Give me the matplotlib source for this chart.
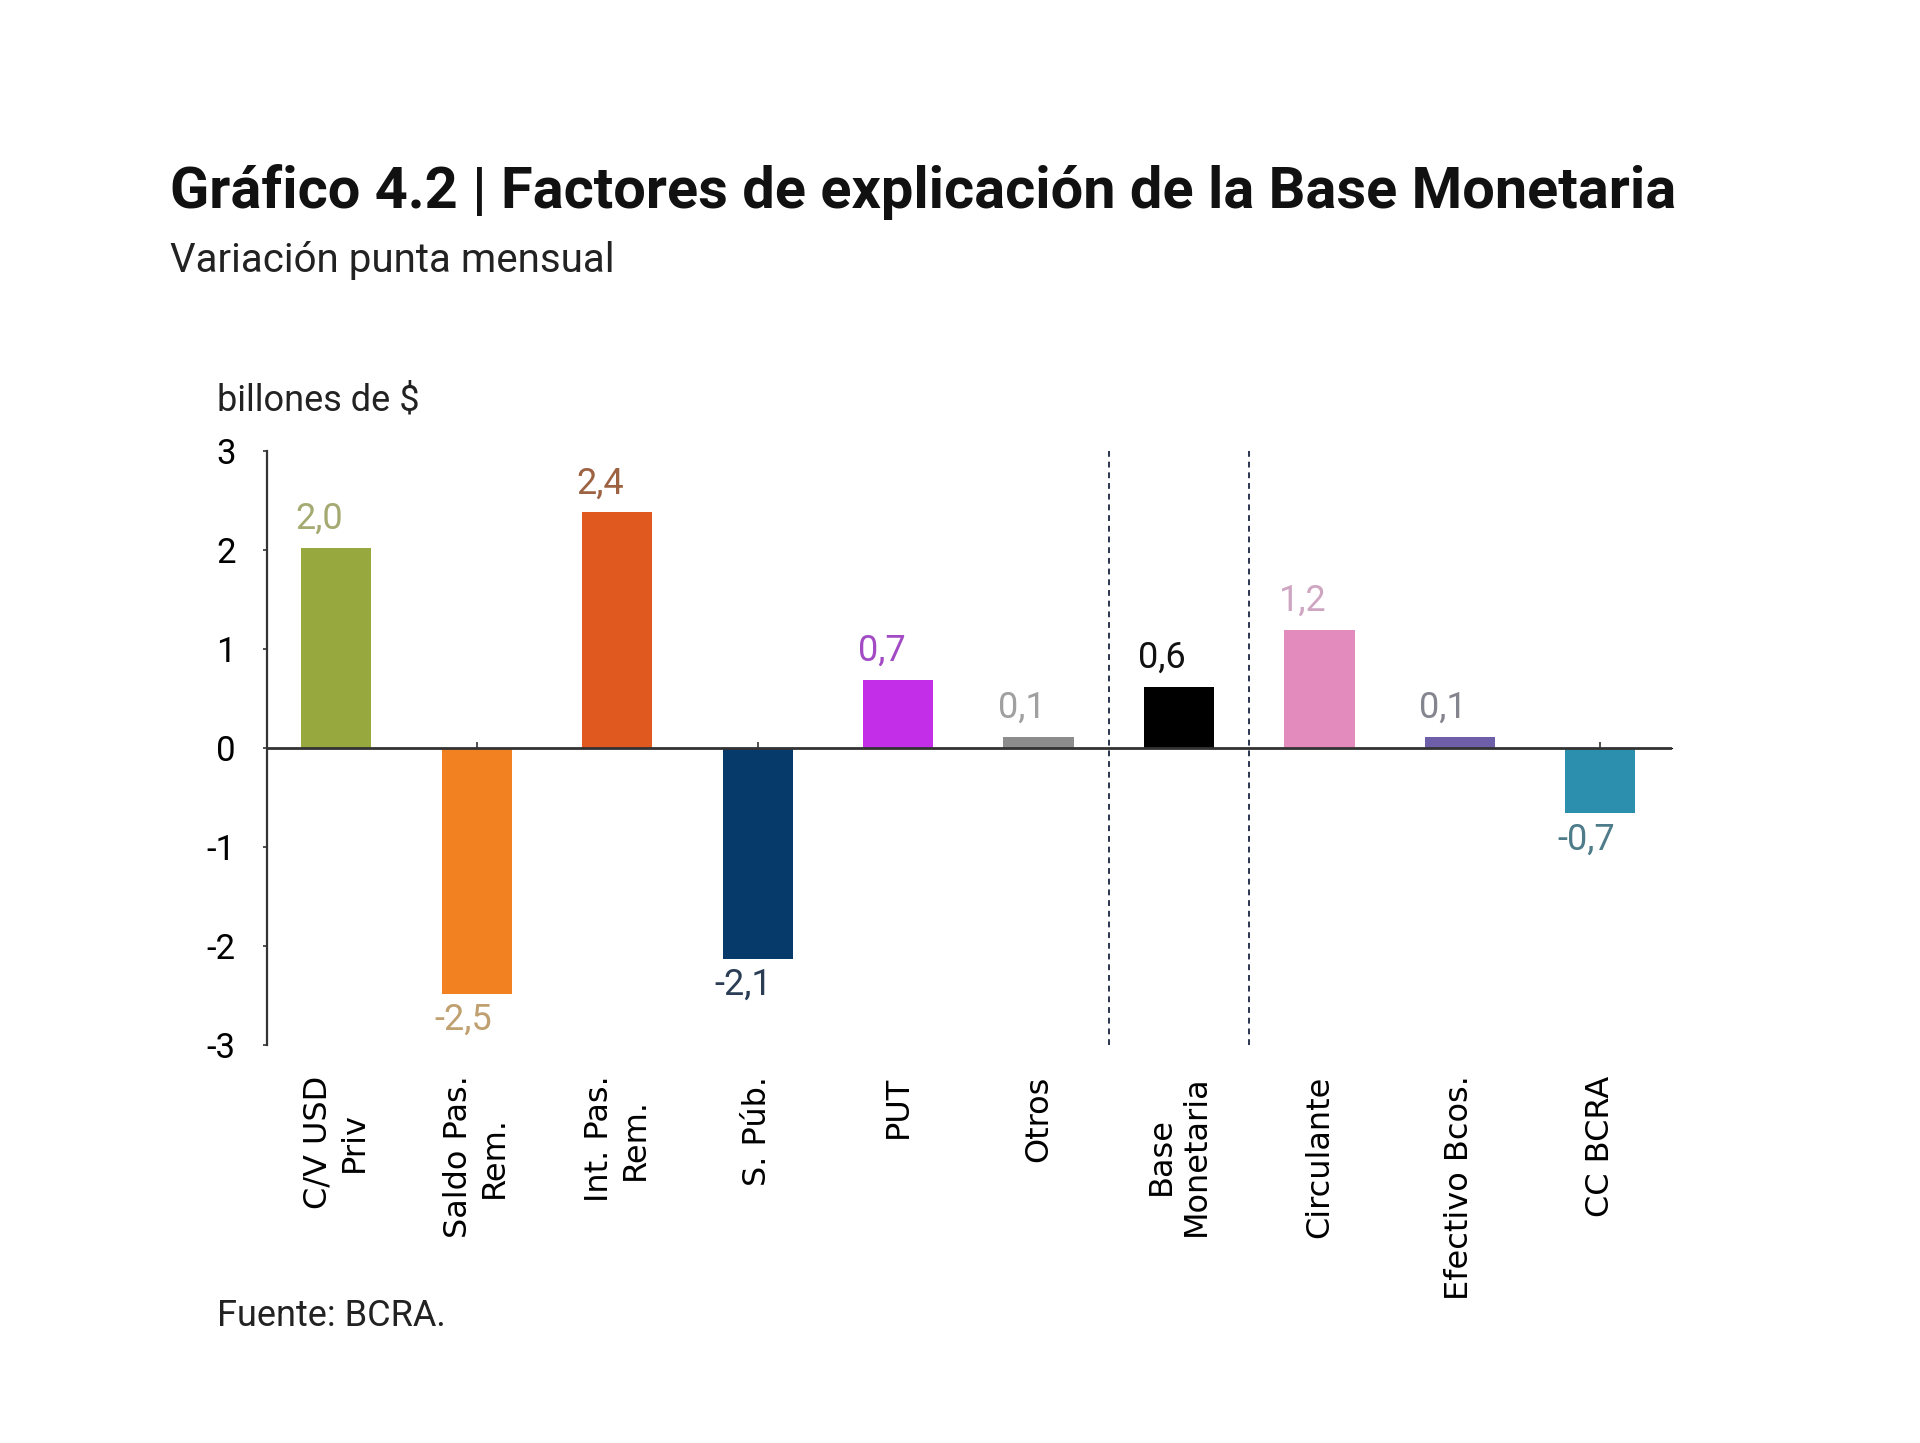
import matplotlib.pyplot as plt
import numpy as np

# datos (billones de $)
categorias = ['C/V USD\nPriv', 'Saldo Pas.\nRem.', 'Int. Pas.\nRem.', 'S. Púb.', 'PUT',
              'Otros', 'Base\nMonetaria', 'Circulante', 'Efectivo Bcos.', 'CC BCRA']
valores = [2.02, -2.48, 2.38, -2.13, 0.69, 0.11, 0.62, 1.19, 0.11, -0.66]
colores = ['#97a83f', '#f28122', '#e05a20', '#053a6b', '#c32fe8',
           '#8c8c8c', '#000000', '#e48bbd', '#6f5ea8', '#2d8fae']
colores_etiq = ['#a5aa72', '#c0a070', '#9c6242', '#2a3d55', '#a24bc4',
                '#a0a0a0', '#111111', '#cfa6c2', '#858590', '#4f7c8a']
separadores = [5.5, 6.5]

fig = plt.figure(figsize=(19.2, 14.43), dpi=100)
ax = fig.add_axes([0.1393, 0.2758, 0.7315, 0.4116])

x = np.arange(len(categorias))
barras = ax.bar(x, valores, width=0.5, color=colores, zorder=2)

for xi, v, c in zip(x, valores, colores_etiq):
    txt = f'{v:.1f}'.replace('.', ',')
    if v >= 0:
        ax.annotate(txt, (xi, v), xytext=(-12, 8), textcoords='offset points',
                    ha='center', va='bottom', fontsize=26, color=c, family='Roboto')
    else:
        ax.annotate(txt, (xi, v), xytext=(-10, -6), textcoords='offset points',
                    ha='center', va='top', fontsize=26, color=c, family='Roboto')

ax.axhline(0, color='#333333', lw=2, zorder=3)
for s in separadores:
    ax.axvline(s, ymin=0, ymax=1, color='#2b3550', lw=1.4, ls=(0, (3, 2.5)), zorder=1)

ax.set_xlim(-0.49, 9.51)
ax.set_ylim(-3, 3)
ax.set_yticks([-3, -2, -1, 0, 1, 2, 3])
ax.set_yticklabels(['-3', '-2', '-1', '0', '1', '2', '3'], fontsize=25, family='Roboto')
ax.set_xticks(x)
ax.set_xticklabels(categorias, rotation=90, ha='center', va='top', fontsize=23,
                   family='DejaVu Sans', multialignment='center')
ax.tick_params(axis='x', length=0, pad=22)
ax.tick_params(axis='y', length=3, width=1.2, pad=20, color='#333333')

# pequeñas marcas sobre la línea del cero
eje0 = ax.secondary_xaxis(0.5)
eje0.set_xticks(x)
eje0.set_xticklabels([])
eje0.tick_params(length=4, width=1.2, direction='out', color='#333333')
eje0.spines['bottom'].set_visible(False)

for sp in ['top', 'right', 'bottom']:
    ax.spines[sp].set_visible(False)
ax.spines['left'].set_color('#333333')
ax.spines['left'].set_linewidth(1.6)

fig.text(170 / 1920, 1 - 192 / 1443, 'Gráfico 4.2 | Factores de explicación de la Base Monetaria',
         fontsize=41.6, fontweight='bold', family='Roboto', va='center', ha='left', color='#111111')
fig.text(170 / 1920, 1 - 261 / 1443, 'Variación punta mensual',
         fontsize=29, family='Roboto', va='center', ha='left', color='#222222')
fig.text(217 / 1920, 1 - 400 / 1443, 'billones de $',
         fontsize=26, family='Roboto', va='center', ha='left', color='#222222')
fig.text(217 / 1920, 1 - 1316 / 1443, 'Fuente: BCRA.',
         fontsize=26, family='Roboto', va='center', ha='left', color='#222222')

fig.savefig('out.png', dpi=100)
